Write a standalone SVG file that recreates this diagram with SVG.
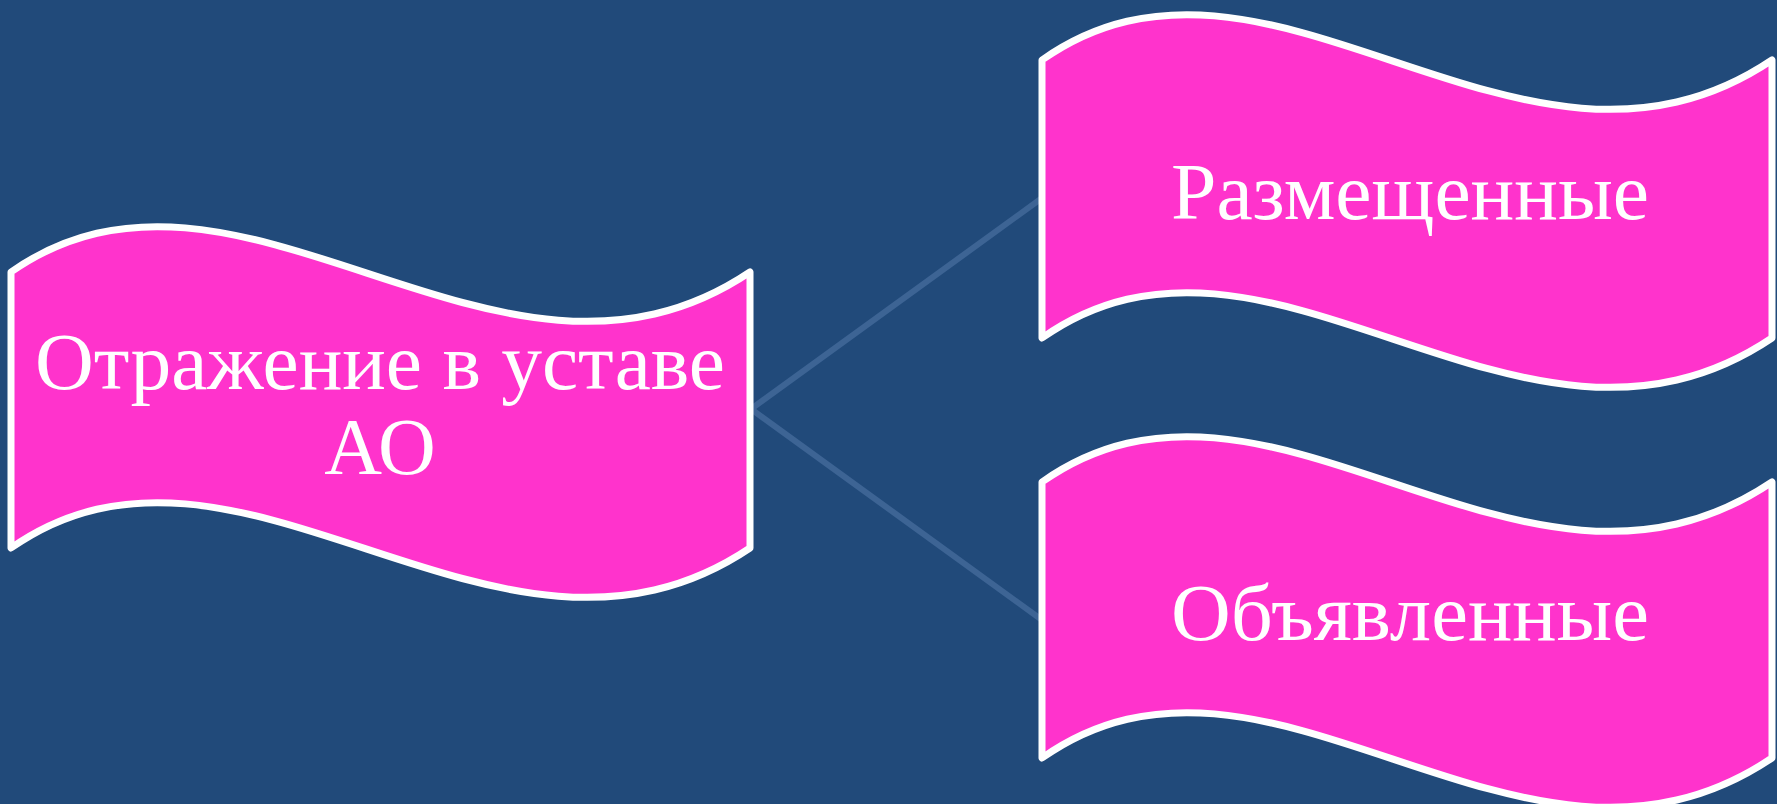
<svg xmlns="http://www.w3.org/2000/svg" width="1777" height="804" viewBox="0 0 1777 804">
<style>
.flag{fill:#ff33cc;stroke:#ffffff;stroke-width:7;stroke-linejoin:round}
.lbl{fill:#ffffff;font-family:"Liberation Serif","DejaVu Serif",serif;text-anchor:middle}
.conn{stroke:#3d6494;stroke-width:6;fill:none;stroke-linecap:round}
</style>
<rect width="1777" height="804" fill="#214a7a"/>
<g id="connectors">
<line class="conn" x1="751" y1="409" x2="1042" y2="198"/>
<line class="conn" x1="751" y1="409" x2="1042" y2="620"/>
</g>
<g id="node-main">
<path class="flag" d="M11,272 C240,112 500,440 750,272 L750,548 C500,716 240,388 11,548 Z"/>
<text class="lbl" x="380" y="389" font-size="80" textLength="690" lengthAdjust="spacingAndGlyphs">Отражение в уставе</text>
<text class="lbl" x="380" y="474" font-size="80">АО</text>
</g>
<g id="node-placed">
<path class="flag" d="M1042,60 C1270,-100 1522,228 1772,60 L1772,338 C1522,506 1270,178 1042,338 Z"/>
<text class="lbl" x="1410" y="219" font-size="80" textLength="478" lengthAdjust="spacingAndGlyphs">Размещенные</text>
</g>
<g id="node-declared">
<path class="flag" d="M1042,482 C1270,322 1522,650 1772,482 L1772,758 C1522,926 1270,598 1042,758 Z"/>
<text class="lbl" x="1410" y="640" font-size="80" textLength="478" lengthAdjust="spacingAndGlyphs">Объявленные</text>
</g>
</svg>
